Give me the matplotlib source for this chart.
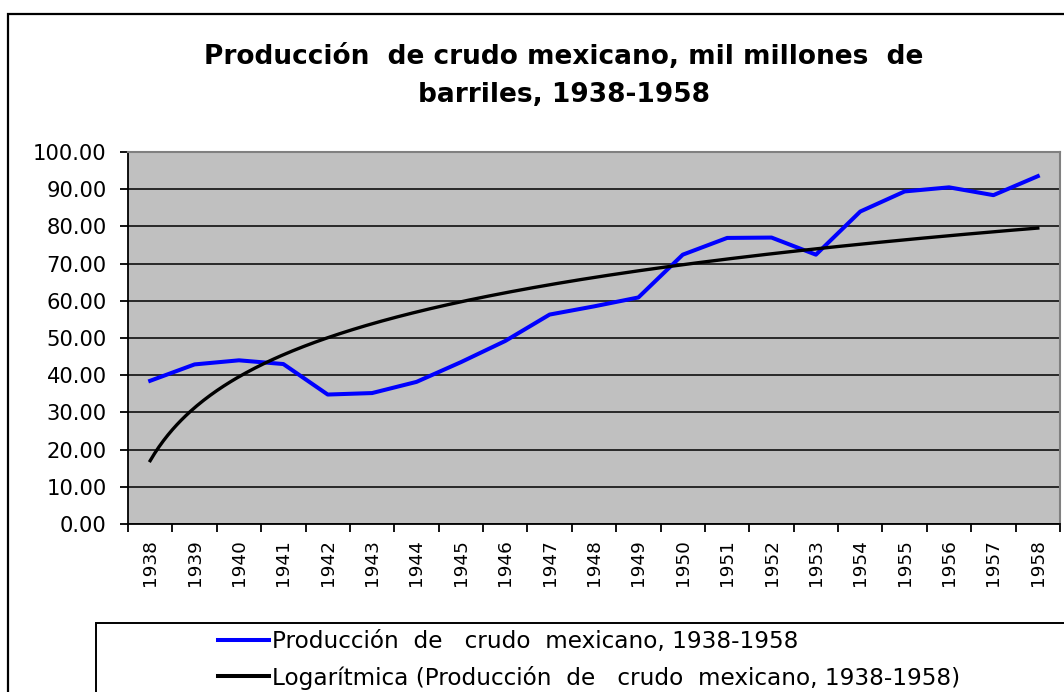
"""
Producción de crudo mexicano 1938-1958 con tendencia logarítmica (estilo Excel).
"""

import numpy as np
import matplotlib.pyplot as plt
from matplotlib.lines import Line2D
from matplotlib.patches import Rectangle
from matplotlib.ticker import MultipleLocator, FixedLocator, NullFormatter

years = [1938, 1939, 1940, 1941, 1942, 1943, 1944, 1945, 1946, 1947, 1948,
         1949, 1950, 1951, 1952, 1953, 1954, 1955, 1956, 1957, 1958]
produccion = [38.5, 42.9, 44.0, 43.0, 34.8, 35.2, 38.2, 43.5, 49.2, 56.3, 58.5,
              60.9, 72.4, 76.9, 77.0, 72.4, 84.0, 89.4, 90.5, 88.4, 93.5]

title = "Producción  de crudo mexicano, mil millones  de\nbarriles, 1938-1958"
label_data = "Producción  de   crudo  mexicano, 1938-1958"
label_trend = "Logarítmica (Producción  de   crudo  mexicano, 1938-1958)"

# the source chart is a horizontally stretched Arial; the wider DejaVu fits it better
plt.rcParams["font.family"] = ["DejaVu Sans"]

W, H = 1064, 692
fig = plt.figure(figsize=(W / 100, H / 100), dpi=100)
ax = fig.add_axes((128 / W, 1 - 524 / H, (1060 - 128) / W, (524 - 152) / H))

# Excel-style trendline: y = a ln(x) + b, x = 1..n
n = len(years)
xi = np.arange(1, n + 1)
a, b = np.polyfit(np.log(xi), produccion, 1)
xf = np.linspace(1, n, 400)
pos = np.arange(n) + 0.5

ax.set_facecolor("#c0c0c0")
ax.plot(pos, produccion, color="#0000ff", lw=2.9, zorder=3)
ax.plot(xf - 0.5, a * np.log(xf) + b, color="black", lw=2.4, zorder=3)

ax.set_xlim(0, n)
ax.set_ylim(0, 100)
ax.yaxis.set_major_locator(MultipleLocator(10))
ax.yaxis.set_major_formatter(lambda v, p: f"{v:.2f}")
ax.set_axisbelow(True)
ax.yaxis.grid(True, color="black", lw=1.1)

ax.xaxis.set_major_locator(FixedLocator(np.arange(n + 1)))
ax.xaxis.set_major_formatter(NullFormatter())
ax.xaxis.set_minor_locator(FixedLocator(pos))
ax.set_xticklabels([str(y) for y in years], minor=True, rotation=90, fontsize=13.3)
ax.tick_params(axis="x", which="minor", length=0, pad=11)
ax.tick_params(axis="both", which="major", direction="out", length=6,
               width=1.3, color="black")
ax.tick_params(axis="y", labelsize=15.2, pad=9.4)

for s in ("top", "right"):
    ax.spines[s].set_color("#808080")
    ax.spines[s].set_linewidth(1.5)
for s in ("left", "bottom"):
    ax.spines[s].set_color("black")
    ax.spines[s].set_linewidth(1.3)

# outer chart frame and legend frame (both run past the image edge)
fig.add_artist(Rectangle((8 / W, -0.1), 1.2, 1.1 - 14 / H, transform=fig.transFigure,
                         fill=False, ec="black", lw=1.6))
fig.add_artist(Rectangle((96 / W, -0.1), 1.2, 0.1 + 1 - 623 / H, transform=fig.transFigure,
                         fill=False, ec="black", lw=1.4))

fig.text(564 / W, 1 - 76 / H, title, ha="center", va="center", fontsize=19,
         fontweight="bold", linespacing=1.6)

handles = [Line2D([], [], color="#0000ff", lw=2.9), Line2D([], [], color="black", lw=2.9)]
fig.legend(handles, [label_data, label_trend], loc="center left",
           bbox_to_anchor=(218 / W, 1 - 660 / H), frameon=False, fontsize=16.7,
           handlelength=51 / 23.2, handletextpad=0.12, borderpad=0,
           borderaxespad=0, labelspacing=0.52)

fig.savefig("out.png", dpi=100)
